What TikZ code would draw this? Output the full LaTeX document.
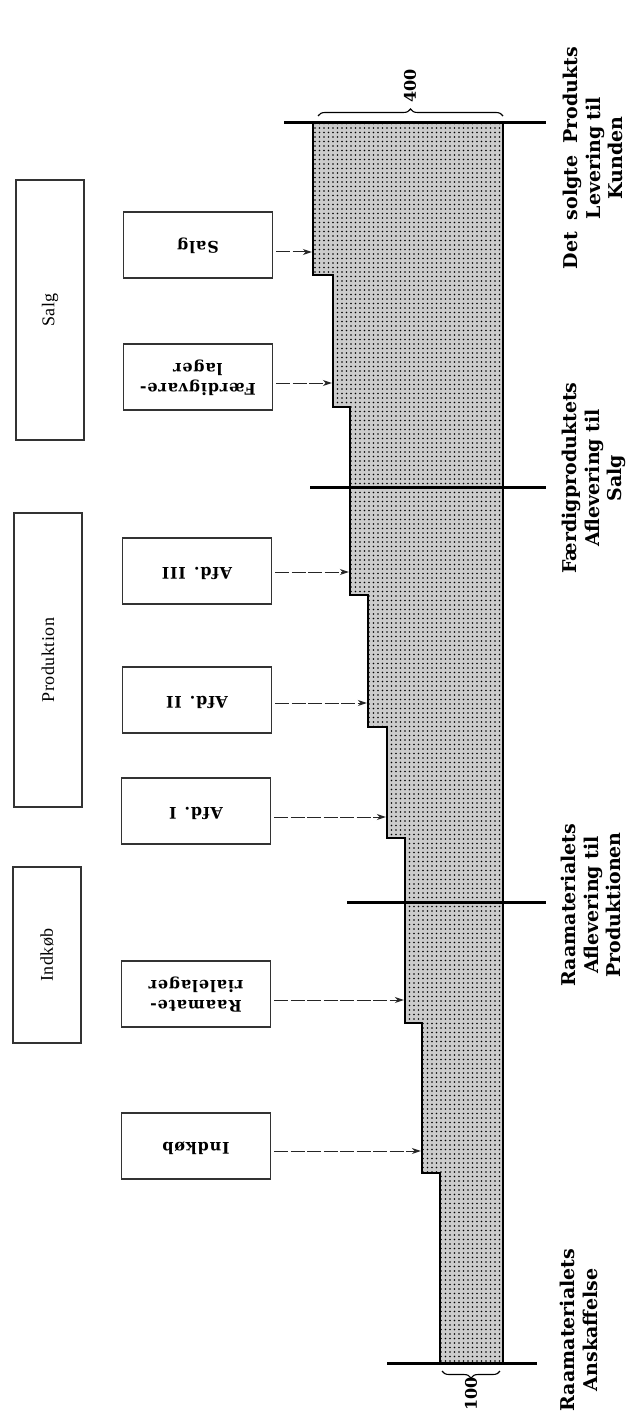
\documentclass[tikz,border=0pt]{standalone}
\usepackage{fontspec}
\setmainfont{Liberation Serif}
\newfontfamily\lblfont{DejaVu Serif}
\newfontfamily\boxfont[LetterSpace=5]{DejaVu Serif}
\newfontfamily\grpfont[LetterSpace=3]{Liberation Serif}
\usetikzlibrary{arrows.meta,decorations.pathreplacing,patterns.meta}
\newcommand{\upsd}[1]{\rotatebox[origin=c]{180}{\begin{tabular}{@{}c@{}}#1\end{tabular}}}
\begin{document}
\begin{tikzpicture}[x=1pt,y=-1pt,
  ibox/.style={draw=black!80, line width=1.1pt, minimum width=149pt, minimum height=66pt, inner sep=0pt,
    font=\boxfont\bfseries\fontsize{16}{20}\selectfont},
  obox/.style={draw=black!80, line width=1.1pt, minimum width=68pt, inner sep=0pt,
    font=\grpfont\fontsize{18}{20}\selectfont},
  lbl/.style={rotate=90, align=center, inner sep=0pt,
    font=\lblfont\bfseries\fontsize{19}{22.5}\selectfont},
  num/.style={rotate=90, inner sep=0pt, font=\lblfont\bfseries\fontsize{16}{20}\selectfont},
  arr/.style={draw=black!85, line width=1pt, dash pattern=on 14pt off 2.5pt,
    -{Stealth[length=9pt,width=6pt]}, shorten >=1.2pt, shorten <=3pt},
  bar/.style={line width=3pt},
  stair/.style={line width=2.6pt, line join=miter,
    preaction={fill=black!20},
    preaction={pattern={Dots[distance=4.5pt,radius=0.95pt]}, pattern color=black}},
  brc/.style={decorate, decoration={brace, amplitude=7pt}, line width=1.1pt}
]
\useasboundingbox (0,0) rectangle (634,1415);

% staircase flow
\draw[stair] (313,123) -- (503,123) -- (503,1363) -- (440,1363) -- (440,1173)
  -- (422,1173) -- (422,1023) -- (405,1023) -- (405,838) -- (387,838)
  -- (387,727) -- (368,727) -- (368,595) -- (350,595) -- (350,407)
  -- (333,407) -- (333,275) -- (313,275) -- cycle;

% boundary bars
\draw[bar] (284,123) -- (546,123);
\draw[bar] (310,487) -- (546,487);
\draw[bar] (347,902) -- (546,902);
\draw[bar] (387,1363) -- (537,1363);

% braces and amounts
\coordinate (b4l) at (318,116);
\coordinate (b4r) at (503,116);
\draw[brc] (b4l) -- (b4r);
\node[num] (n400) at (410,86) {400};
\coordinate (b1r) at (500,1371);
\coordinate (b1l) at (442,1371);
\draw[brc] (b1r) -- (b1l);
\node[num] (n100) at (471,1394) {100};

% group boxes
\node[obox, minimum height=260pt] (gS) at (50,310) {\rotatebox{90}{Salg}};
\node[obox, minimum height=294pt] (gP) at (48,660) {\rotatebox{90}{Produktion}};
\node[obox, minimum height=176pt] (gI) at (47,955) {\rotatebox{90}{Indkøb}};

% stage boxes
\node[ibox] (salgI) at (198,245) {\upsd{Salg}};
\node[ibox] (faerd) at (198,377) {\upsd{Færdigvare-\\lager}};
\node[ibox] (afd3) at (197,571) {\upsd{Afd.\hspace{8pt}III}};
\node[ibox] (afd2) at (197,700) {\upsd{Afd.\hspace{8pt}II}};
\node[ibox] (afd1) at (196,811) {\upsd{Afd.\hspace{8pt}I}};
\node[ibox] (raam) at (196,994) {\upsd{Raamate-\\rialelager}};
\node[ibox] (indk) at (196,1146) {\upsd{Indkøb}};

% arrow targets on the flow edge
\coordinate (tS) at (313,252);
\coordinate (tF) at (333,383);
\coordinate (t3) at (350,572);
\coordinate (t2) at (368,703);
\coordinate (t1) at (387,817);
\coordinate (tR) at (405,1000);
\coordinate (tI) at (422,1151);

\draw[arr] (salgI.east |- tS) -- (tS);
\draw[arr] (faerd.east |- tF) -- (tF);
\draw[arr] (afd3.east |- t3) -- (t3);
\draw[arr] (afd2.east |- t2) -- (t2);
\draw[arr] (afd1.east |- t1) -- (t1);
\draw[arr] (raam.east |- tR) -- (tR);
\draw[arr] (indk.east |- tI) -- (tI);

% stage labels
\node[lbl] (lab1) at (593,158) {Det\hspace{12pt}solgte\hspace{12pt}Produkts\\Levering\hspace{6pt}til\\Kunden};
\node[lbl] (lab2) at (594,478) {Færdigproduktets\\Aflevering\hspace{6pt}til\\Salg};
\node[lbl] (lab3) at (591,905) {Raamaterialets\\Aflevering\hspace{6pt}til\\Produktionen};
\node[lbl] (lab4) at (579,1330) {Raamaterialets\\Anskaffelse};
\end{tikzpicture}
\end{document}
